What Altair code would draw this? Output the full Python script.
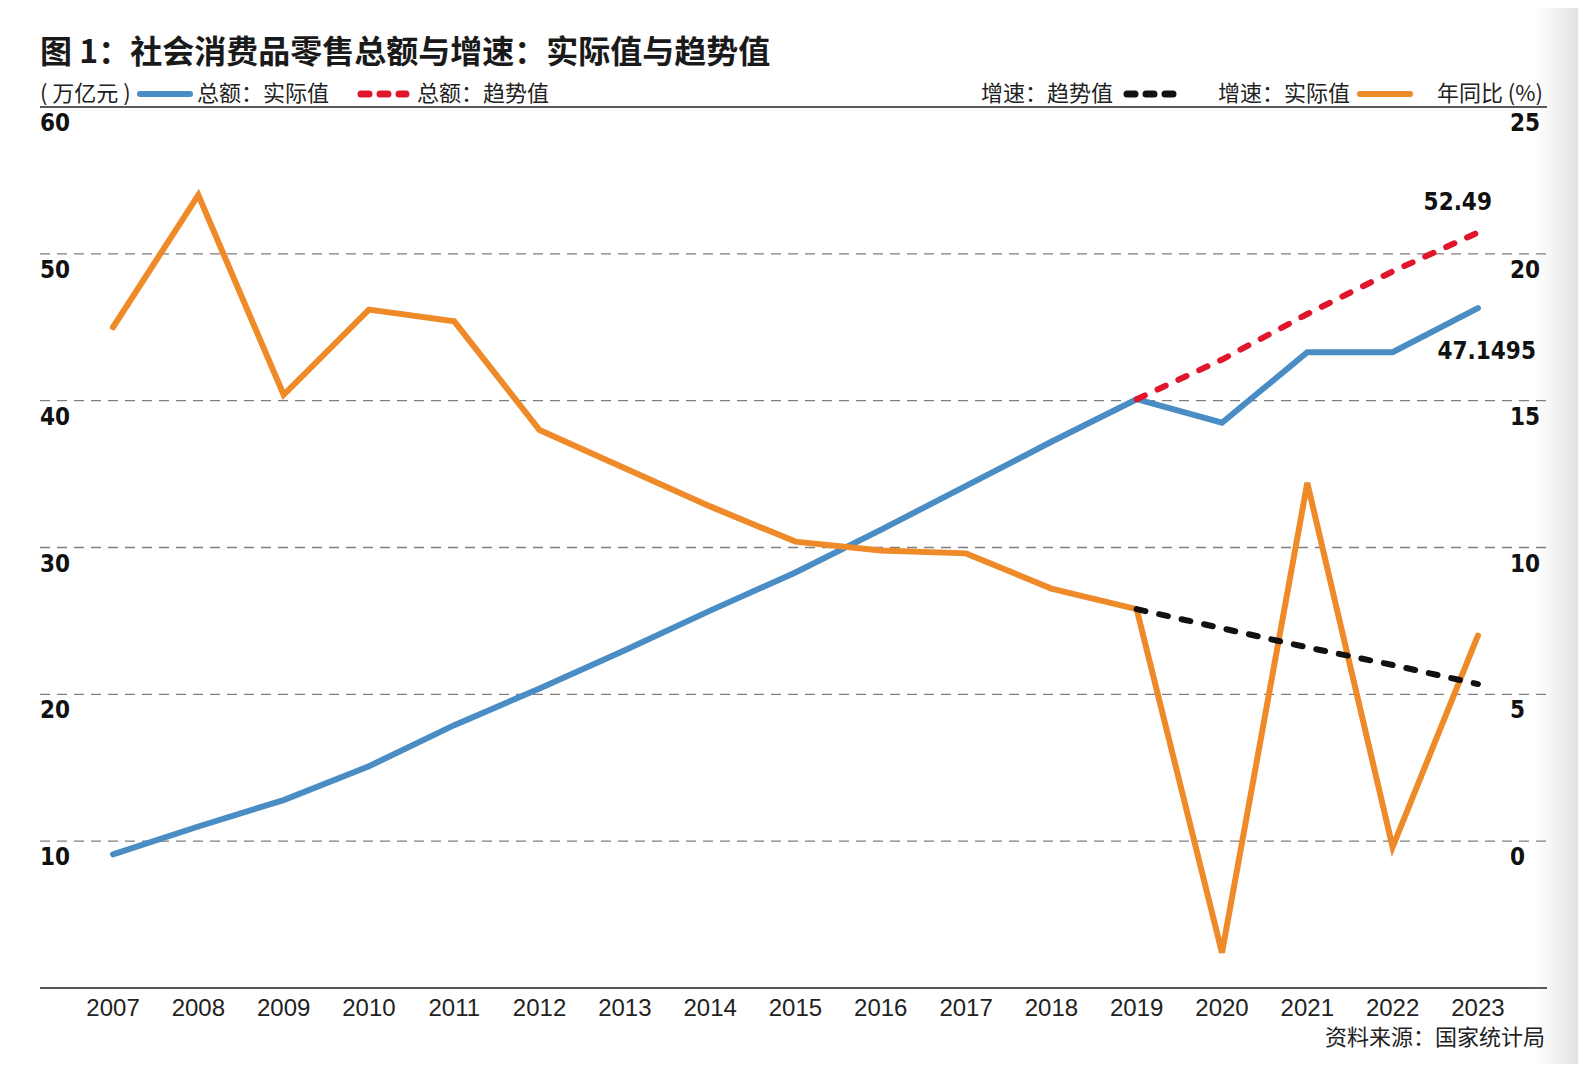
import altair as alt
import pandas as pd

# ---------------- data ----------------
years = list(range(2007, 2024))
total_actual = [9.1, 11.0, 12.8, 15.1, 17.9, 20.4, 23.0, 25.7, 28.3, 31.2,
                34.2, 37.2, 40.1, 38.5, 43.3, 43.3, 46.3]
growth_actual = [17.5, 22.0, 15.2, 18.1, 17.7, 14.0, 12.7, 11.4, 10.2, 9.9,
                 9.8, 8.6, 7.9, -3.8, 12.2, -0.2, 7.0]
trend_years = [2019, 2020, 2021, 2022, 2023]
total_trend = [40.1, 42.8, 45.9, 48.8, 51.45]
growth_trend = [7.9, 7.25, 6.6, 6.0, 5.35]

left_ticks = [10, 20, 30, 40, 50, 60]
right_ticks = [0, 5, 10, 15, 20, 25]
dashed_grid = [10, 20, 30, 40, 50]
solid_lines = [0, 60]

annot_year = [2023, 2023]
annot_value = [51.45, 46.3]
annot_text = ["52.49", "47.1495"]

title_text = "图 1：社会消费品零售总额与增速：实际值与趋势值"
source_text = "资料来源：国家统计局"

# ---------------- layout ----------------
W, H = 1507, 881
CJK = "Noto Sans CJK SC"
NUM = "DejaVu Sans Condensed"
LAT = "Liberation Sans"

xs = alt.Scale(domain=[2006.144, 2023.81], nice=False, zero=False)
ysL = alt.Scale(domain=[0, 60], nice=False, zero=False)
ysR = alt.Scale(domain=[-5, 25], nice=False, zero=False)

df_actual = pd.DataFrame({"year": years, "total": total_actual, "growth": growth_actual})
df_trend = pd.DataFrame({"year": trend_years, "total": total_trend, "growth": growth_trend})
one = pd.DataFrame({"a": [0]})

X = alt.X("year:Q", scale=xs, axis=None)

shade = alt.Chart(one).mark_rect(
    color=alt.LinearGradient(
        gradient="linear", x1=0, x2=1, y1=0, y2=0,
        stops=[alt.GradientStop(color="#ffffff", offset=0),
               alt.GradientStop(color="#f6f6f6", offset=0.4),
               alt.GradientStop(color="#ebebeb", offset=0.7),
               alt.GradientStop(color="#e2e2e2", offset=1)]
    )
).encode(x=alt.value(1492), x2=alt.value(1538), y=alt.value(-99), y2=alt.value(H + 80))

grid = alt.Chart(pd.DataFrame({"v": dashed_grid})).mark_rule(
    color="#7f7f7f", strokeWidth=1.3, strokeDash=[10, 7]
).encode(y=alt.Y("v:Q", scale=ysL, axis=None), x=alt.value(0), x2=alt.value(W))

frame = alt.Chart(pd.DataFrame({"v": solid_lines})).mark_rule(
    color="#222222", strokeWidth=1.6
).encode(y=alt.Y("v:Q", scale=ysL, axis=None), x=alt.value(0), x2=alt.value(W))

blue = alt.Chart(df_actual).mark_line(
    color="#4a8dc4", strokeWidth=6, strokeCap="round"
).encode(x=X, y=alt.Y("total:Q", scale=ysL, axis=None))

orange = alt.Chart(df_actual).mark_line(
    color="#ee8a28", strokeWidth=6, strokeCap="round"
).encode(x=X, y=alt.Y("growth:Q", scale=ysR, axis=None))

red = alt.Chart(df_trend).mark_line(
    color="#e1162c", strokeWidth=6, strokeCap="round", strokeDash=[9, 14]
).encode(x=X, y=alt.Y("total:Q", scale=ysL, axis=None))

black = alt.Chart(df_trend).mark_line(
    color="#111111", strokeWidth=6, strokeCap="round", strokeDash=[9, 14]
).encode(x=X, y=alt.Y("growth:Q", scale=ysR, axis=None))

left_lab = alt.Chart(pd.DataFrame({"v": left_ticks})).mark_text(
    align="left", baseline="middle", dy=17, font=NUM, fontSize=24,
    fontWeight="bold", color="#111111"
).encode(y=alt.Y("v:Q", scale=ysL, axis=None), x=alt.value(0), text="v:Q")

right_lab = alt.Chart(pd.DataFrame({"v": right_ticks})).mark_text(
    align="left", baseline="middle", dy=17, font=NUM, fontSize=24,
    fontWeight="bold", color="#111111"
).encode(y=alt.Y("v:Q", scale=ysR, axis=None), x=alt.value(1470), text="v:Q")

year_lab = alt.Chart(pd.DataFrame({"year": years})).mark_text(
    align="center", baseline="middle", font=LAT, fontSize=24, color="#222222"
).encode(x=X, y=alt.value(902), text=alt.Text("year:Q", format="d"))

df_annot = pd.DataFrame({"year": annot_year, "v": annot_value, "t": annot_text})
annot1 = alt.Chart(df_annot.iloc[[0]]).mark_text(
    align="right", baseline="middle", dx=14, dy=-30, font=NUM, fontSize=24,
    fontWeight="bold", color="#111111"
).encode(x=X, y=alt.Y("v:Q", scale=ysL, axis=None), text="t:N")
annot2 = alt.Chart(df_annot.iloc[[1]]).mark_text(
    align="right", baseline="middle", dx=58, dy=44, font=NUM, fontSize=24,
    fontWeight="bold", color="#111111"
).encode(x=X, y=alt.Y("v:Q", scale=ysL, axis=None), text="t:N")


def label(t, x, y, align="left", size=22, weight="normal", font=CJK, color="#222222"):
    return alt.Chart(one).mark_text(
        align=align, baseline="middle", font=font, fontSize=size,
        fontWeight=weight, color=color
    ).encode(x=alt.value(x), y=alt.value(y), text=alt.value(t))


def swatch(x1, x2, y, color, dash=None, width=6):
    kw = dict(color=color, strokeWidth=width, strokeCap="round")
    if dash:
        kw["strokeDash"] = dash
    return alt.Chart(one).mark_rule(**kw).encode(
        x=alt.value(x1), x2=alt.value(x2), y=alt.value(y))


LY = -13
deco = [
    label(title_text, 0, -54, size=32, weight="bold", color="#1a1a1a"),
    label("( 万亿元 )", 0, LY),
    swatch(100, 150, LY, "#4a8dc4"),
    label("总额：实际值", 157, LY),
    swatch(321, 366, LY, "#e1162c", dash=[8, 11], width=7),
    label("总额：趋势值", 377, LY),
    label("增速：趋势值", 1073, LY, align="right"),
    swatch(1087, 1134, LY, "#111111", dash=[8, 11], width=7),
    label("增速：实际值", 1310, LY, align="right"),
    swatch(1320, 1370, LY, "#ee8a28"),
    label("年同比 (%)", 1503, LY, align="right"),
    label(source_text, 1505, 931, align="right", size=22),
]

chart = alt.layer(
    shade, grid, frame, blue, orange, red, black, left_lab, right_lab, year_lab,
    annot1, annot2, *deco
).resolve_scale(y="independent").properties(
    width=W, height=H,
    padding={"left": 32, "top": 99, "right": 31, "bottom": 76},
    autosize=alt.AutoSizeParams(type="none"),
    background="white",
).configure_view(stroke=None)

chart.save("out.html", embed_options={"renderer": "svg", "actions": False})
